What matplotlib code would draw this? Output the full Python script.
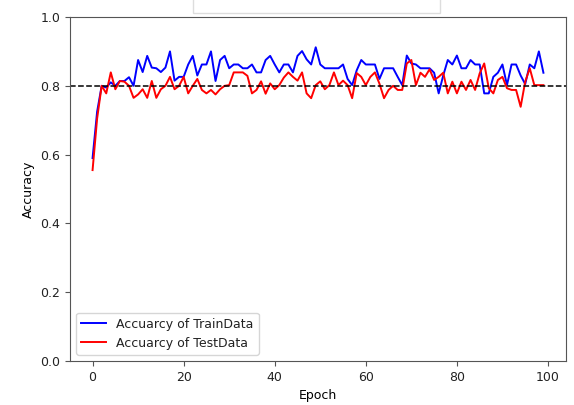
import matplotlib
matplotlib.use("Agg")
import matplotlib.pyplot as plt
from matplotlib.patches import Rectangle

# accuracy per epoch
train_acc = [0.59, 0.725, 0.80, 0.795, 0.81, 0.80, 0.814, 0.814, 0.825, 0.80,
             0.875, 0.84, 0.887, 0.853, 0.851, 0.84, 0.853, 0.90, 0.815, 0.826,
             0.826, 0.862, 0.887, 0.83, 0.862, 0.862, 0.90, 0.814, 0.875, 0.887,
             0.851, 0.862, 0.862, 0.851, 0.851, 0.862, 0.839, 0.839, 0.875, 0.887,
             0.862, 0.839, 0.862, 0.862, 0.839, 0.887, 0.901, 0.877, 0.862, 0.912,
             0.862, 0.851, 0.851, 0.851, 0.851, 0.862, 0.82, 0.802, 0.845, 0.875,
             0.862, 0.862, 0.862, 0.82, 0.851, 0.851, 0.851, 0.826, 0.802, 0.888,
             0.865, 0.862, 0.851, 0.851, 0.851, 0.838, 0.778, 0.83, 0.875, 0.862,
             0.888, 0.851, 0.851, 0.875, 0.862, 0.862, 0.778, 0.778, 0.826, 0.838,
             0.862, 0.802, 0.862, 0.862, 0.83, 0.805, 0.862, 0.851, 0.90, 0.838]

test_acc = [0.555, 0.705, 0.80, 0.778, 0.839, 0.79, 0.814, 0.812, 0.80, 0.765,
            0.775, 0.79, 0.765, 0.814, 0.765, 0.79, 0.80, 0.826, 0.79, 0.80,
            0.826, 0.778, 0.80, 0.82, 0.788, 0.778, 0.788, 0.775, 0.79, 0.80,
            0.802, 0.839, 0.839, 0.839, 0.829, 0.778, 0.788, 0.813, 0.777, 0.807,
            0.79, 0.802, 0.824, 0.839, 0.826, 0.815, 0.839, 0.778, 0.764, 0.802,
            0.813, 0.79, 0.802, 0.839, 0.802, 0.815, 0.802, 0.764, 0.837, 0.826,
            0.802, 0.826, 0.839, 0.806, 0.764, 0.788, 0.80, 0.788, 0.788, 0.865,
            0.875, 0.802, 0.838, 0.826, 0.848, 0.817, 0.826, 0.838, 0.778, 0.812,
            0.778, 0.812, 0.788, 0.817, 0.788, 0.836, 0.865, 0.793, 0.778, 0.817,
            0.826, 0.793, 0.788, 0.788, 0.739, 0.812, 0.851, 0.802, 0.802, 0.802]

epochs = list(range(len(train_acc)))
threshold = 0.8

plt.rcParams['font.size'] = 9
plt.rcParams['text.color'] = '#222222'
plt.rcParams['xtick.labelcolor'] = '#222222'
plt.rcParams['ytick.labelcolor'] = '#222222'

fig = plt.figure(figsize=(5.74, 4.05), dpi=100)
ax = fig.add_axes([0.122, 0.1086, 0.864, 0.8494])

# faint box left at the top of the screenshot
fig.patches.append(Rectangle((0.336, 0.968), 0.43, 0.1, transform=fig.transFigure,
                             facecolor='white', edgecolor='#dddddd', linewidth=1.0))

ax.plot(epochs, train_acc, color='blue', linewidth=1.4, label='Accuarcy of TrainData')
ax.plot(epochs, test_acc, color='red', linewidth=1.4, label='Accuarcy of TestData')
ax.axhline(threshold, color='black', linestyle='--', linewidth=1.1)

for s in ax.spines.values():
    s.set_color('#555555')
ax.tick_params(color='#555555')

ax.set_ylim(0, 1.0)
ax.set_xlabel('Epoch')
ax.set_ylabel('Accuracy')
ax.legend(loc='lower left')

fig.savefig('out.png', dpi=100)
